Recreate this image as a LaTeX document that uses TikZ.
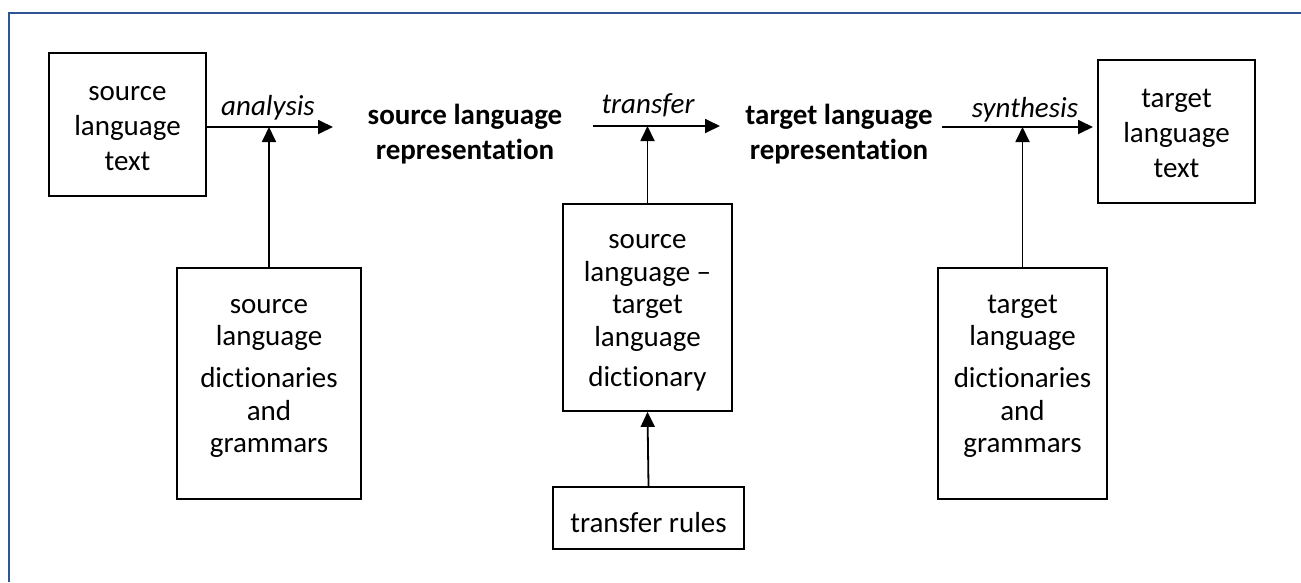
\documentclass[tikz,border=0pt]{standalone}
\usepackage{fontspec}
\setmainfont{Carlito}[Ligatures=NoCommon]
\usetikzlibrary{arrows.meta}
\definecolor{framecol}{HTML}{2F5597}
\begin{document}
\begin{tikzpicture}[x=1pt,y=-1pt,
  box/.style={draw, line width=1.8pt, inner sep=0pt},
  txt/.style={font=\fontsize{29}{35}\selectfont, align=center, inner sep=0pt},
  dtxt/.style={font=\fontsize{29}{32.5}\selectfont, align=center, inner sep=0pt},
  rep/.style={font=\fontsize{29}{35}\selectfont\bfseries, align=center, inner sep=0pt},
  proc/.style={font=\fontsize{29}{35}\selectfont\itshape, anchor=base, inner sep=0pt},
  arr/.style={line width=1.8pt, -{Triangle[length=15pt,width=14pt]}}]
\useasboundingbox (0,0) rectangle (1301,582);

% page frame
\draw[framecol, line width=2pt] (8.5,582) -- (8.5,13.3) -- (1301,13.3);

% boxes
\node[box, minimum width=157pt, minimum height=143pt] (srctext) at (127.5,124.5) {};
\node[box, minimum width=157pt, minimum height=143pt] (tgttext) at (1176.5,131.5) {};
\node[box, minimum width=184pt, minimum height=231pt] (srcdict) at (269,383.5) {};
\node[box, minimum width=169pt, minimum height=207pt] (bidict) at (647.5,307.5) {};
\node[box, minimum width=169pt, minimum height=231pt] (tgtdict) at (1022.5,383.5) {};
\node[box, minimum width=191pt, minimum height=62pt] (rules) at (648.5,518) {};

% box texts
\node[txt] (srctextlbl) at (127.5,128.2) {source\\language\\text};
\node[txt] (tgttextlbl) at (1176.5,133.5) {target\\language\\text};
\node[dtxt] (srcdictlbl) at (269,378.3) {source\\language\\[9.5pt]dictionaries\\and\\grammars};
\node[dtxt] (bidictlbl) at (647.5,312.8) {source\\language --\\target\\language\\[7.5pt]dictionary};
\node[dtxt] (tgtdictlbl) at (1022.5,376.5) {target\\language\\[9.5pt]dictionaries\\and\\grammars};
\node[txt] (ruleslbl) at (648.5,522.8) {transfer rules};

% intermediate representations
\node[rep] (srcrep) at (465,134.3) {source language\\representation};
\node[rep] (tgtrep) at (839,134.3) {target language\\representation};

% arrow ends
\coordinate (anaEnd) at (333,127);
\coordinate (trStart) at (593,126);
\coordinate (trEnd) at (720,126);
\coordinate (synStart) at (942,127);
\coordinate (synEnd) at (1093,127);

% main flow
\draw[arr] (srctext.east |- anaEnd) -- (anaEnd);
\draw[arr] (trStart) -- (trEnd);
\draw[arr] (synStart) -- (synEnd);

% resources feeding each step
\draw[arr] (srcdict.north) -- (srcdict.north |- anaEnd);
\draw[arr] (bidict.north) -- (bidict.north |- trEnd);
\draw[arr] (tgtdict.north) -- (tgtdict.north |- synEnd);
\draw[arr] (rules.north) -- (bidict.south);

% step labels
\node[proc] (analysis) at (268,115) {analysis};
\node[proc] (transfer) at (648,113) {transfer};
\node[proc] (synthesis) at (1025,117.5) {synthesis};
\end{tikzpicture}
\end{document}
